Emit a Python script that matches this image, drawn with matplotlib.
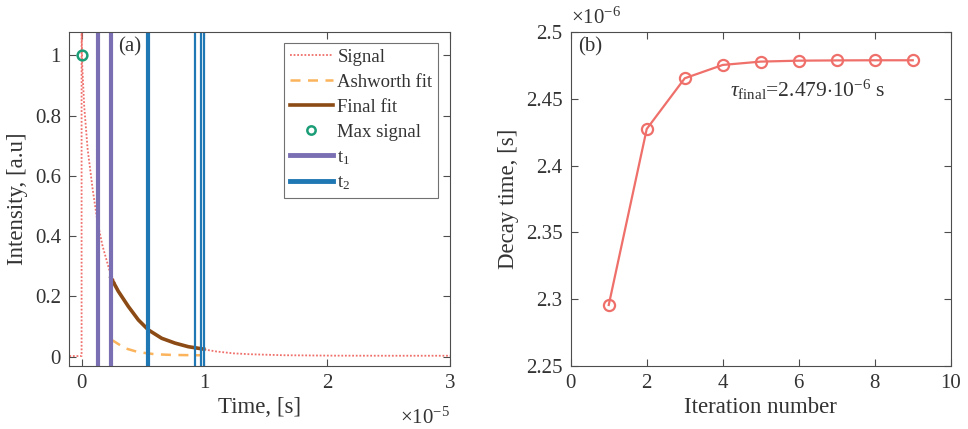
import matplotlib
matplotlib.use("Agg")
import matplotlib.pyplot as plt
from matplotlib.ticker import FuncFormatter, FixedLocator
from matplotlib.lines import Line2D

# ---------------- data ----------------
# panel (a): time in seconds, intensity normalised
signal_t = [-1.0e-6, -0.02e-6, 0.0, 0.0, 0.05e-6, 0.21e-6, 0.49e-6, 0.90e-6, 1.30e-6,
            1.71e-6, 2.25e-6, 3.00e-6, 3.80e-6, 4.62e-6, 5.43e-6, 6.52e-6, 7.60e-6,
            8.69e-6, 9.66e-6, 11.0e-6, 12.35e-6, 13.7e-6, 16.4e-6, 20.5e-6, 25.0e-6, 30.0e-6]
signal_v = [0.002, 0.002, 0.002, 1.10, 0.97, 0.833, 0.69, 0.556, 0.446,
            0.367, 0.289, 0.217, 0.167, 0.122, 0.089, 0.061, 0.045,
            0.033, 0.026, 0.017, 0.011, 0.008, 0.0047, 0.0033, 0.003, 0.003]

ashworth_t = [2.44e-6, 3.53e-6, 4.62e-6, 5.97e-6, 7.33e-6, 9.23e-6, 9.8e-6]
ashworth_v = [0.056, 0.028, 0.015, 0.008, 0.0057, 0.0047, 0.0045]

final_t = [2.39e-6, 2.99e-6, 3.80e-6, 4.62e-6, 5.43e-6, 6.52e-6, 7.60e-6, 8.69e-6, 9.94e-6]
final_v = [0.262, 0.217, 0.167, 0.122, 0.089, 0.061, 0.045, 0.033, 0.025]

max_t = [0.0]
max_v = [1.0]

t1_pos = [1.35e-6, 2.39e-6]
t1_lw = [3.0, 3.0]
t2_pos = [5.38e-6, 9.23e-6, 9.72e-6, 9.94e-6]
t2_lw = [3.0, 1.6, 1.6, 1.6]

# panel (b)
iteration = [1, 2, 3, 4, 5, 6, 7, 8, 9]
decay_time = [2.2955e-6, 2.4275e-6, 2.4655e-6, 2.4755e-6, 2.478e-6,
              2.4787e-6, 2.4789e-6, 2.479e-6, 2.479e-6]

xticks_a = [0, 1e-5, 2e-5, 3e-5]
yticks_a = [0, 0.2, 0.4, 0.6, 0.8, 1.0]
xticks_b = [0, 2, 4, 6, 8, 10]
yticks_b = [2.25e-6, 2.30e-6, 2.35e-6, 2.40e-6, 2.45e-6, 2.50e-6]

# ---------------- style ----------------
FONT = "Liberation Serif"
plt.rcParams["font.family"] = [FONT, "DejaVu Serif"]
plt.rcParams["mathtext.fontset"] = "custom"
plt.rcParams["mathtext.rm"] = FONT
plt.rcParams["mathtext.it"] = FONT + ":italic"
plt.rcParams["mathtext.bf"] = FONT + ":bold"
TXT = "#333333"
SPINE = "#4d4d4d"
TICK_FS = 15
LAB_FS = 16.5

c_signal = "#EF6F6A"
c_ash = "#FBB45C"
c_final = "#8C4A14"
c_max = "#1B9E77"
c_t1 = "#7B6FB3"
c_t2 = "#1F77B4"

fig = plt.figure(figsize=(9.68, 4.29), dpi=100)
ax1 = fig.add_axes([0.0716, 0.1476, 0.3933, 0.7772])
ax2 = fig.add_axes([0.5896, 0.1476, 0.3926, 0.7772])

def style(ax):
    for s in ax.spines.values():
        s.set_color(SPINE)
        s.set_linewidth(0.8)
    ax.tick_params(direction="in", length=5, width=0.8, colors=SPINE,
                   labelcolor=TXT, labelsize=TICK_FS, top=True, right=True, pad=6)

# ---- panel (a)
ax1.plot(signal_t, signal_v, linestyle=(0, (1, 1)), color=c_signal, lw=1.3, label="Signal")
ax1.plot(ashworth_t, ashworth_v, linestyle=(0, (4, 3)), color=c_ash, lw=1.8, label="Ashworth fit")
ax1.plot(final_t, final_v, color=c_final, lw=2.6, label="Final fit")
ax1.plot(max_t, max_v, linestyle="none", marker="o", ms=7, mfc="none", mec=c_max, mew=1.8,
         label="Max signal")
for p, w in zip(t1_pos, t1_lw):
    ax1.axvline(p, color=c_t1, lw=w)
for p, w in zip(t2_pos, t2_lw):
    ax1.axvline(p, color=c_t2, lw=w)

ax1.set_xlim(-1.0e-6, 3.0e-5)
ax1.set_ylim(-0.03, 1.077)
ax1.xaxis.set_major_locator(FixedLocator(xticks_a))
ax1.xaxis.set_major_formatter(FuncFormatter(lambda v, p: f"{v/1e-5:g}"))
ax1.yaxis.set_major_locator(FixedLocator(yticks_a))
ax1.yaxis.set_major_formatter(FuncFormatter(lambda v, p: f"{v:g}"))
style(ax1)
ax1.set_xlabel("Time, [s]", fontsize=LAB_FS, color=TXT, labelpad=3)
ax1.set_ylabel("Intensity, [a.u]", fontsize=LAB_FS, color=TXT, labelpad=5)
ax1.text(1.0, -0.125, r"$\times10^{-5}$", transform=ax1.transAxes, ha="right", va="top",
         fontsize=TICK_FS, color=TXT)
ax1.text(0.128, 0.985, "(a)", transform=ax1.transAxes, ha="left", va="top", fontsize=TICK_FS,
         color=TXT)

handles = [
    Line2D([], [], linestyle=(0, (1, 1)), color=c_signal, lw=1.3),
    Line2D([], [], linestyle=(0, (4, 3)), color=c_ash, lw=1.8),
    Line2D([], [], color=c_final, lw=2.6),
    Line2D([], [], linestyle="none", marker="o", ms=6, mfc="none", mec=c_max, mew=1.8),
    Line2D([], [], color=c_t1, lw=3.5),
    Line2D([], [], color=c_t2, lw=3.5),
]
labels = ["Signal", "Ashworth fit", "Final fit", "Max signal", r"t$_1$", r"t$_2$"]
leg = ax1.legend(handles, labels, loc="upper right", bbox_to_anchor=(0.969, 0.967),
                 fontsize=13.5, frameon=True, fancybox=False, edgecolor=SPINE,
                 handlelength=2.3, handletextpad=0.25, borderpad=0.3, labelspacing=0.42,
                 borderaxespad=0.0)
leg.get_frame().set_linewidth(0.8)
for t in leg.get_texts():
    t.set_color(TXT)

# ---- panel (b)
ax2.plot(iteration, decay_time, color=c_signal, lw=1.6, marker="o", ms=8, mfc="none",
         mec=c_signal, mew=1.6)
ax2.set_xlim(0, 10)
ax2.set_ylim(2.25e-6, 2.5e-6)
ax2.xaxis.set_major_locator(FixedLocator(xticks_b))
ax2.yaxis.set_major_locator(FixedLocator(yticks_b))
ax2.yaxis.set_major_formatter(FuncFormatter(lambda v, p: f"{round(v/1e-6, 4):g}"))
style(ax2)
ax2.set_xlabel("Iteration number", fontsize=LAB_FS, color=TXT, labelpad=3)
ax2.set_ylabel("Decay time, [s]", fontsize=LAB_FS, color=TXT, labelpad=5)
ax2.text(0.0, 1.01, r"$\times10^{-6}$", transform=ax2.transAxes, ha="left", va="bottom",
         fontsize=TICK_FS, color=TXT)
ax2.text(0.02, 0.985, "(b)", transform=ax2.transAxes, ha="left", va="top", fontsize=TICK_FS,
         color=TXT)
ax2.text(4.2, 2.4565e-6, r"$\tau_{\rm final}$=2.479$\cdot$10$^{-6}$ s", ha="left",
         va="center", fontsize=15.5, color=TXT)

fig.savefig("out.png", dpi=100)
